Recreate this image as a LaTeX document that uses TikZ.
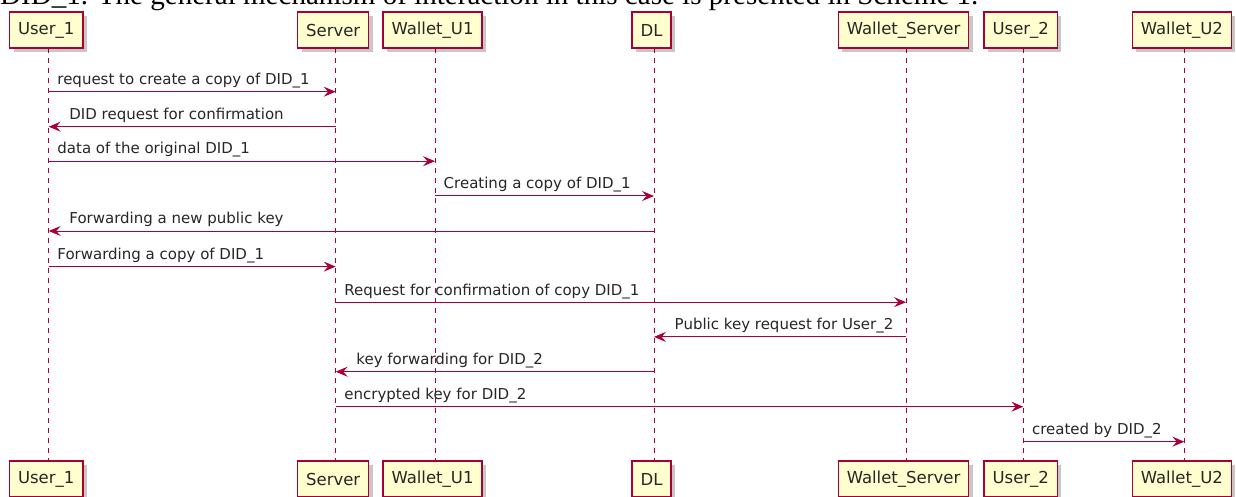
\documentclass[tikz,border=0pt]{standalone}
\usepackage{fontspec}
\setmainfont{DejaVu Sans}
\newfontfamily\serifface{Liberation Serif}
\usetikzlibrary{arrows.meta,shadows}
\definecolor{umlred}{HTML}{A80036}
\definecolor{umlfill}{HTML}{FEFECE}
\tikzset{
  part/.style={draw=umlred, fill=umlfill, line width=1.3pt, minimum height=36pt,
    inner xsep=8.5pt, inner ysep=0pt, text=black!85, font=\fontsize{16.5}{18}\selectfont,
    drop shadow={shadow xshift=4pt, shadow yshift=-4pt, fill=black, opacity=0.22}},
  life/.style={draw=umlred, line width=1pt, dash pattern=on 5pt off 5pt},
  msg/.style={draw=umlred, line width=1pt, -{Stealth[length=12pt,width=10pt,inset=4.5pt]}},
  lbl/.style={anchor=base west, inner sep=0pt, font=\fontsize{15}{17}\selectfont, text=black!85},
}
\newcommand\msgLR[5]{%
  \draw[msg] (#1 |- 0,-#3) -- (#2 |- 0,-#3);
  \node[lbl, xshift=8.5pt, yshift=7.2pt] (#5) at (#1 |- 0,-#3) {#4};}
\newcommand\msgRL[5]{%
  \draw[msg] (#1 |- 0,-#3) -- (#2 |- 0,-#3);
  \node[lbl, xshift=20.5pt, yshift=7.2pt] (#5) at (#2 |- 0,-#3) {#4};}
\begin{document}
\begin{tikzpicture}[x=1pt,y=1pt]
\useasboundingbox (0,0) rectangle (1236,-497);
\clip (0,0) rectangle (1236,-497);
\fill[white] (0,0) rectangle (1236,-497);
\node[anchor=base west, inner sep=0pt] (cap) at (0,-5)
  {\resizebox{978pt}{!}{\serifface DID\_1. The general mechanism of interaction in this case is presented in Scheme 1.}};

% lifeline positions
\coordinate (U1) at (48.7,0);
\coordinate (SV) at (335.7,0);
\coordinate (W1) at (435,0);
\coordinate (DL) at (654,0);
\coordinate (WS) at (906,0);
\coordinate (U2) at (1023.3,0);
\coordinate (W2) at (1184.3,0);

% lifelines
\foreach \p in {U1,SV,W1,DL,WS,U2,W2}
  \draw[life] (\p |- 0,-48) -- (\p |- 0,-461);

% participants (top)
\node[part] (tU1) at (46.2,-30) {User\_1};
\node[part] (tSV) at (333.2,-30) {Server};
\node[part] (tW1) at (432.5,-30) {Wallet\_U1};
\node[part] (tDL) at (651.5,-30) {DL};
\node[part] (tWS) at (903.5,-30) {Wallet\_Server};
\node[part] (tU2) at (1020.8,-30) {User\_2};
\node[part] (tW2) at (1181.8,-30) {Wallet\_U2};

% participants (bottom)
\node[part] (bU1) at (46.2,-479) {User\_1};
\node[part] (bSV) at (333.2,-479) {Server};
\node[part] (bW1) at (432.5,-479) {Wallet\_U1};
\node[part] (bDL) at (651.5,-479) {DL};
\node[part] (bWS) at (903.5,-479) {Wallet\_Server};
\node[part] (bU2) at (1020.8,-479) {User\_2};
\node[part] (bW2) at (1181.8,-479) {Wallet\_U2};

% messages
\msgLR{U1}{SV}{91.7}{request to create a copy of DID\_1}{l1}
\msgRL{SV}{U1}{126.7}{DID request for confirmation}{l2}
\msgLR{U1}{W1}{161.2}{data of the original DID\_1}{l3}
\msgLR{W1}{DL}{196}{Creating a copy of DID\_1}{l4}
\msgRL{DL}{U1}{231}{Forwarding a new public key}{l5}
\msgLR{U1}{SV}{266.6}{Forwarding a copy of DID\_1}{l6}
\msgLR{SV}{WS}{302.2}{Request for confirmation of copy DID\_1}{l7}
\msgRL{WS}{DL}{336.9}{Public key request for User\_2}{l8}
\msgRL{DL}{SV}{371.7}{key forwarding for DID\_2}{l9}
\msgLR{SV}{U2}{406.7}{encrypted key for DID\_2}{l10}
\msgLR{U2}{W2}{441.7}{created by DID\_2}{l11}
\end{tikzpicture}
\end{document}
